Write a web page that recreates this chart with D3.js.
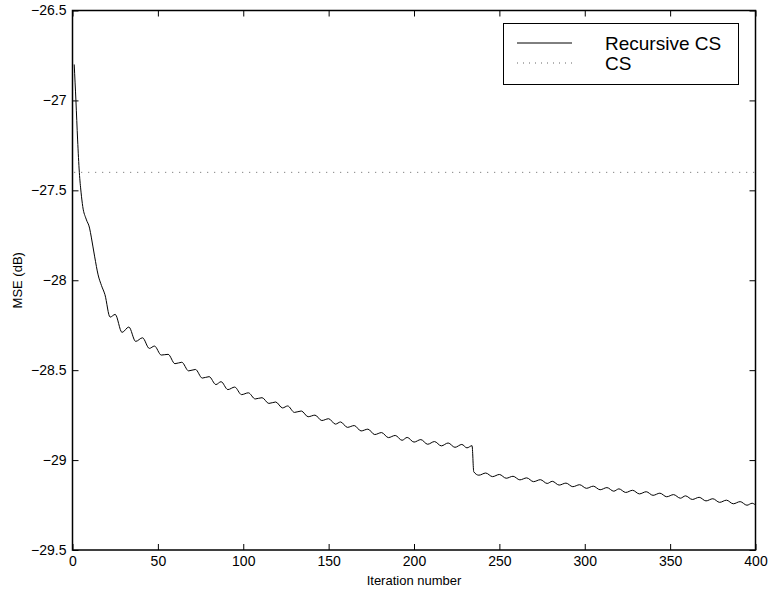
<!DOCTYPE html>
<html>
<head>
<meta charset="utf-8">
<script src="https://cdn.jsdelivr.net/npm/d3@7"></script>
<style>
  body { margin: 0; background: #fff; }
  svg { display: block; font-family: "Liberation Sans", Arial, sans-serif; }
</style>
</head>
<body>
<svg id="chart" width="769" height="590"></svg>
<script>
const iterations = [1, 2, 3, 4, 5, 6, 8, 10, 11, 13, 15, 17, 19, 22, 25, 29, 33, 37, 41, 45,
  48, 52, 56, 60, 64, 68, 72, 76, 80, 84, 87, 91, 95, 99, 103, 107, 111, 115, 119, 123,
  126, 130, 134, 138, 142, 146, 150, 154, 157, 161, 165, 169, 173, 177, 181, 185, 189, 193, 196, 200,
  204, 208, 212, 216, 220, 224, 228, 231, 234, 235, 238, 242, 246, 250, 254, 258, 262, 266, 270, 274,
  278, 281, 285, 289, 293, 297, 301, 305, 309, 313, 317, 320, 324, 328, 332, 336, 340, 344, 348, 352,
  356, 359, 363, 367, 371, 375, 379, 383, 387, 391, 395, 398, 400];

const recursiveMse = [-26.80, -27.00, -27.22, -27.40, -27.51, -27.59, -27.66, -27.71, -27.76, -27.87,
  -27.97, -28.03, -28.08, -28.205, -28.19, -28.29, -28.26, -28.34, -28.32, -28.379,
  -28.366, -28.416, -28.412, -28.464, -28.456, -28.504, -28.496, -28.544, -28.536, -28.58,
  -28.564, -28.608, -28.594, -28.636, -28.626, -28.660, -28.653, -28.685, -28.677, -28.710,
  -28.699, -28.735, -28.727, -28.759, -28.750, -28.780, -28.770, -28.800, -28.788, -28.818,
  -28.808, -28.838, -28.828, -28.858, -28.847, -28.875, -28.863, -28.890, -28.874, -28.900,
  -28.886, -28.912, -28.897, -28.921, -28.905, -28.929, -28.913, -28.932, -28.920, -29.065,
  -29.084, -29.072, -29.092, -29.080, -29.101, -29.090, -29.110, -29.099, -29.120, -29.109,
  -29.130, -29.118, -29.139, -29.128, -29.148, -29.137, -29.157, -29.145, -29.165, -29.153,
  -29.173, -29.160, -29.180, -29.168, -29.188, -29.176, -29.196, -29.184, -29.204, -29.192,
  -29.212, -29.199, -29.219, -29.207, -29.227, -29.215, -29.235, -29.223, -29.243, -29.231,
  -29.251, -29.240, -29.250];

const csIterations = [1, 400];
const csMse = [-27.4, -27.4];

const xTicks = [0, 50, 100, 150, 200, 250, 300, 350, 400];
const yTicks = [-29.5, -29, -28.5, -28, -27.5, -27, -26.5];
const legendLabels = ["Recursive CS", "CS"];

const svg = d3.select("#chart");
const plotLeft = 72.5, plotRight = 755.5, plotTop = 10.5, plotBottom = 550;

const x = d3.scaleLinear().domain([0, 400]).range([plotLeft, plotRight]);
const y = d3.scaleLinear().domain([-29.5, -26.5]).range([plotBottom, plotTop]);
const fmt = d => d3.format("")(d).replace("-", "\u2212");

// axes, ticks pointing inward on all four sides
svg.append("g").attr("transform", `translate(0,${plotBottom})`)
  .call(d3.axisBottom(x).tickValues(xTicks).tickSizeInner(-6).tickSizeOuter(0).tickPadding(6).tickFormat(fmt));
svg.append("g").attr("transform", `translate(${plotLeft},0)`)
  .call(d3.axisLeft(y).tickValues(yTicks).tickSizeInner(-6).tickSizeOuter(0).tickPadding(6).tickFormat(fmt));
svg.append("g").attr("transform", `translate(0,${plotTop})`)
  .call(d3.axisTop(x).tickValues(xTicks).tickSizeInner(-6).tickSizeOuter(0).tickFormat(""));
svg.append("g").attr("transform", `translate(${plotRight},0)`)
  .call(d3.axisRight(y).tickValues(yTicks).tickSizeInner(-6).tickSizeOuter(0).tickFormat(""));

svg.selectAll(".domain").remove();
svg.selectAll(".tick line").attr("stroke", "#000").attr("stroke-width", 1);
svg.selectAll(".tick text").attr("fill", "#000").style("font-size", "14px");

svg.append("rect")
  .attr("x", plotLeft).attr("y", plotTop)
  .attr("width", plotRight - plotLeft).attr("height", plotBottom - plotTop)
  .attr("fill", "none").attr("stroke", "#000").attr("stroke-width", 1.5);

// CS reference level
const csData = csIterations.map((it, i) => ({ it, v: csMse[i] }));
svg.append("path")
  .datum(csData)
  .attr("d", d3.line().x(d => x(d.it)).y(d => y(d.v)))
  .attr("fill", "none")
  .attr("stroke", "#666")
  .attr("stroke-width", 1)
  .attr("stroke-dasharray", "1,6");

// recursive CS curve
const recData = iterations.map((it, i) => ({ it, v: recursiveMse[i] }));
svg.append("path")
  .datum(recData)
  .attr("d", d3.line().x(d => x(d.it)).y(d => y(d.v)).curve(d3.curveMonotoneX))
  .attr("fill", "none")
  .attr("stroke", "#000")
  .attr("stroke-width", 1);

// axis titles
svg.append("text")
  .attr("x", (plotLeft + plotRight) / 2).attr("y", 585)
  .attr("text-anchor", "middle")
  .style("font-size", "13px")
  .text("Iteration number");

svg.append("text")
  .attr("transform", `translate(22,${(plotTop + plotBottom) / 2}) rotate(-90)`)
  .attr("text-anchor", "middle")
  .style("font-size", "13px")
  .text("MSE (dB)");

// legend
const legend = svg.append("g");
legend.append("rect")
  .attr("x", 503.5).attr("y", 23.5).attr("width", 235).attr("height", 61)
  .attr("fill", "#fff").attr("stroke", "#000").attr("stroke-width", 1);

legendLabels.forEach((label, i) => {
  const ly = 43 + i * 20;
  legend.append("line")
    .attr("x1", 517).attr("x2", 572).attr("y1", ly).attr("y2", ly)
    .attr("stroke", i === 0 ? "#000" : "#666")
    .attr("stroke-width", 1)
    .attr("stroke-dasharray", i === 0 ? null : "1,5");
  legend.append("text")
    .attr("x", 605).attr("y", ly)
    .attr("dy", "0.35em")
    .style("font-size", "19px")
    .text(label);
});
</script>
</body>
</html>
